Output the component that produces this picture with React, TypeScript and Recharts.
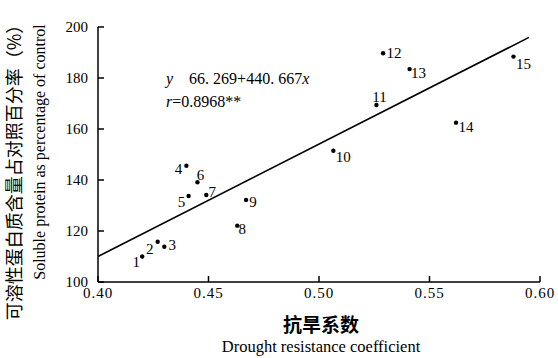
import { ScatterChart, Scatter, XAxis, YAxis, ReferenceLine } from "recharts";

// drought resistance coefficient of each variety (x) and soluble protein % of control (y)
const varieties = ["1", "2", "3", "4", "5", "6", "7", "8", "9", "10", "11", "12", "13", "14", "15"];
const droughtCoef = [0.420, 0.427, 0.430, 0.440, 0.441, 0.445, 0.449, 0.463, 0.467, 0.5065, 0.526, 0.529, 0.541, 0.562, 0.588];
const solubleProtein = [110, 115.8, 113.8, 145.6, 133.7, 139.1, 134.1, 122.1, 132.2, 151.5, 169.4, 189.7, 183.5, 162.5, 188.4];

const xTicks = [0.4, 0.45, 0.5, 0.55, 0.6];
const yTicks = [100, 120, 140, 160, 180, 200];

// fitted line y = -66.269 + 440.667x
const intercept = -66.269;
const slope = 440.667;
const fitRange = [0.4, 0.595];

// where each number sits next to its dot (px)
const labelOffset: Record<string, [number, number]> = {
  "1": [-6, 5], "2": [-8, 7], "3": [8, -2], "4": [-8, 3], "5": [-7, 6],
  "6": [3, -7], "7": [6, -3], "8": [5, 3], "9": [7, 2], "10": [10, 6],
  "11": [3, -8], "12": [11, 0], "13": [9, 4], "14": [10, 4], "15": [10, 7],
};

const data = varieties.map((name, i) => ({ name, x: droughtCoef[i], y: solubleProtein[i] }));

const serif = "'Liberation Serif', 'Times New Roman', serif";
const cjk = "'Noto Sans CJK SC', sans-serif";

const Dot = (props: any) => {
  const { cx, cy, payload } = props;
  const [dx, dy] = labelOffset[payload.name] || [6, 0];
  return (
    <g>
      <circle cx={cx} cy={cy} r={2.2} fill="#000" />
      <text x={cx + dx} y={cy + dy} textAnchor="middle" dominantBaseline="central"
        fontFamily={serif} fontSize={15} fill="#000">
        {payload.name}
      </text>
    </g>
  );
};

const XTick = (props: any) => {
  const { x, y, payload } = props;
  return (
    <g>
      <line x1={x} y1={y} x2={x} y2={y - 6} stroke="#000" strokeWidth={1.5} />
      <text x={x} y={y + 16} textAnchor="middle" fontFamily={serif} fontSize={15}
        letterSpacing={1} fill="#000">
        {payload.value.toFixed(2)}
      </text>
    </g>
  );
};

const YTick = (props: any) => {
  const { x, y, payload } = props;
  return (
    <g>
      <line x1={x} y1={y} x2={x + 6} y2={y} stroke="#000" strokeWidth={1.5} />
      <text x={x - 10} y={y} textAnchor="end" dominantBaseline="central" fontFamily={serif}
        fontSize={15} fill="#000">
        {payload.value}
      </text>
    </g>
  );
};

export default function App() {
  const fit = (x: number) => intercept + slope * x;
  return (
    <div style={{ position: "absolute", left: 0, top: 0, background: "#fff" }}>
      <ScatterChart width={558} height={358} margin={{ top: 27, right: 18, bottom: 46, left: 48 }}>
        <XAxis type="number" dataKey="x" domain={[0.4, 0.6]} ticks={xTicks}
          tick={<XTick />} tickLine={false} tickSize={0} tickMargin={0} height={30}
          axisLine={{ stroke: "#000", strokeWidth: 1.5 }} allowDataOverflow />
        <YAxis type="number" dataKey="y" domain={[100, 200]} ticks={yTicks}
          tick={<YTick />} tickLine={false} tickSize={0} tickMargin={0} width={50}
          axisLine={{ stroke: "#000", strokeWidth: 1.5 }} allowDataOverflow />
        <ReferenceLine
          segment={[{ x: fitRange[0], y: fit(fitRange[0]) }, { x: fitRange[1], y: fit(fitRange[1]) }]}
          stroke="#000" strokeWidth={1.6} ifOverflow="visible" />
        <Scatter data={data} shape={<Dot />} isAnimationActive={false} />

        <text x={166} y={78} fontFamily={serif} fontSize={16} fill="#000" dominantBaseline="central">
          <tspan fontStyle="italic">y</tspan>
          <tspan dx={16}>66. 269+440. 667</tspan>
          <tspan fontStyle="italic">x</tspan>
        </text>
        <text x={166} y={101} fontFamily={serif} fontSize={16} fill="#000" dominantBaseline="central">
          <tspan fontStyle="italic">r</tspan>
          <tspan>=0.8968**</tspan>
        </text>

        <text x={321} y={323} textAnchor="middle" dominantBaseline="central" fontFamily={cjk}
          fontSize={19} fontWeight="bold" fill="#000">
          抗旱系数
        </text>
        <text x={321} y={346} textAnchor="middle" dominantBaseline="central" fontFamily={serif}
          fontSize={16.5} fill="#000">
          Drought resistance coefficient
        </text>
        <text transform="translate(13,168) rotate(-90)" textAnchor="middle" dominantBaseline="central"
          fontFamily={cjk} fontSize={18} fill="#000">
          可溶性蛋白质含量占对照百分率（%）
        </text>
        <text transform="translate(39,152) rotate(-90)" textAnchor="middle" dominantBaseline="central"
          fontFamily={serif} fontSize={16} fill="#000">
          Soluble protein as percentage of control
        </text>
      </ScatterChart>
    </div>
  );
}
